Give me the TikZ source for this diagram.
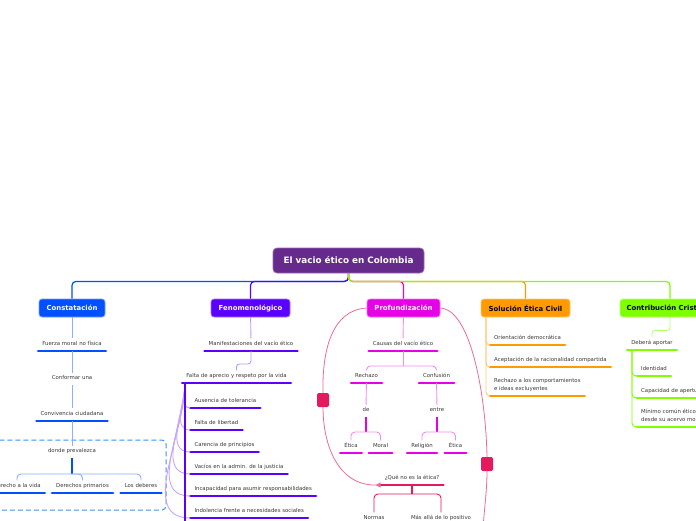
\documentclass[tikz,border=0pt]{standalone}
\usepackage{fontspec}
\setmainfont{DejaVu Sans}
\usepackage{xcolor}
\usetikzlibrary{arrows.meta}

\definecolor{rootc}{HTML}{662A8C}
\definecolor{consc}{HTML}{0050FF}
\definecolor{fenoc}{HTML}{5A00FF}
\definecolor{profc}{HTML}{E600E6}
\definecolor{solc}{HTML}{FF9A00}
\definecolor{contc}{HTML}{80FF00}
\definecolor{relc}{HTML}{E5195E}
\definecolor{relline}{HTML}{F06A96}
\definecolor{dashc}{HTML}{4090FF}
\definecolor{textc}{HTML}{3A3A3A}

\tikzset{
  rootbox/.style={rounded corners=4pt, fill=rootc, draw=rootc!70!white, line width=0.8pt,
    minimum width=151pt, minimum height=25pt, text=white,
    font=\fontsize{8.8}{10}\selectfont\bfseries},
  branch/.style={rounded corners=3pt, fill=#1, draw=#1!55!white, line width=0.8pt,
    minimum height=18pt, inner xsep=0pt, text=white,
    font=\fontsize{6.9}{8}\selectfont\bfseries},
  bar/.style={draw=#1, line width=2.6pt, line cap=round},
  topic/.style={font=\fontsize{5.4}{8}\selectfont, text=textc, inner xsep=4pt, inner ysep=3pt,
    text height=4pt, text depth=2.3pt,
    append after command={(\tikzlastnode.south west) edge[bar=#1] (\tikzlastnode.south east)}},
  plain/.style={font=\fontsize{5.4}{8}\selectfont, text=textc, inner sep=3pt,
    text height=4pt, text depth=2.3pt},
  conn/.style={draw=#1, line width=0.9pt, rounded corners=4pt},
  stem/.style={draw=#1, line width=1.4pt},
  spine/.style={draw=#1, line width=2pt},
  elbow/.style={to path={-| (\tikztotarget)}},
  drop/.style={to path={|- (\tikztotarget)}},
  relbox/.style={fill=relc, rounded corners=2pt, minimum width=12pt, minimum height=14pt, inner sep=0pt},
  rel/.style={draw=relline, line width=0.8pt},
  dashbox/.style={draw=dashc, line width=1pt, dash pattern=on 5pt off 3pt, rounded corners=4pt}
}

\begin{document}
\begin{tikzpicture}[x=1pt, y=1pt]
  \useasboundingbox (0,0) rectangle (696,-520);
  \clip (0,0) rectangle (696,-520);
  \fill[white] (0,0) rectangle (696,-520);

  % central topic and main branches
  \node[rootbox] (root) at (348.5,-260.5) {El vacio ético en Colombia};
  \node[branch=consc, minimum width=66pt] (cons) at (72,-308) {Constatación};
  \node[branch=fenoc, minimum width=79pt] (feno) at (250.5,-308) {Fenomenológico};
  \node[branch=profc, minimum width=73pt] (prof) at (403.5,-308) {Profundización};
  \node[branch=solc, minimum width=89pt, text=black] (sol) at (525.5,-308) {Solución Ética Civil};
  \node[branch=contc, minimum width=100pt, text=black] (cont) at (670,-308) {Contribución Cristiana};

  \draw[conn=consc, line width=1.2pt] (root.south) -- ++(0,-8) -| (cons.north);
  \draw[conn=fenoc, line width=1.2pt] (root.south) -- ++(0,-8) -| (feno.north);
  \draw[conn=profc, line width=1.2pt] (root.south) -- ++(0,-8) -| (prof.north);
  \draw[conn=solc, line width=1.2pt] (root.south) -- ++(0,-8) -| (sol.north);
  \draw[conn=contc, line width=1.2pt] (root.south) -- ++(0,-8) -| (cont.north);

  % Constatacion
  \node[topic=consc, anchor=south] (fuerza) at (72,-351) {Fuerza moral no física};
  \node[plain] (conformar) at (72,-379) {Conformar una};
  \node[topic=consc, anchor=south] (conviv) at (72,-421) {Convivencia ciudadana};
  \draw[dashbox] (-6,-440) rectangle (166,-510);
  \node[plain] (donde) at (72,-452) {donde prevalezca};
  \node[topic=consc, anchor=south] (derecho) at (17,-493) {Derecho a la vida};
  \node[topic=consc, anchor=south] (primarios) at (82.5,-493) {Derechos primarios};
  \node[topic=consc, anchor=south] (deberes) at (141,-493) {Los deberes};
  \coordinate (dj) at (72,-474);

  \path[conn=consc!45]
    (cons) edge (fuerza)
    (fuerza) edge (conformar)
    (conformar) edge (conviv)
    (conviv) edge (donde);
  \draw[stem=consc] (donde) -- (dj);
  \path[conn=consc!45]
    (dj) edge[elbow] (derecho)
         edge[elbow] (primarios)
         edge[elbow] (deberes);

  % Fenomenologico
  \node[topic=fenoc, anchor=south] (manif) at (251,-351) {Manifestaciones del vacío ético};
  \node[topic=fenoc, anchor=south] (aprecio) at (236.5,-383) {Falta de aprecio y respeto por la vida};
  \node[topic=fenoc, anchor=south west] (aus) at (190.3,-408) {Ausencia de tolerancia};
  \node[topic=fenoc, anchor=south west] (lib) at (190.3,-430) {Falta de libertad};
  \node[topic=fenoc, anchor=south west] (princ) at (190.3,-452) {Carencia de principios};
  \node[topic=fenoc, anchor=south west] (just) at (190.3,-474) {Vacíos en la admin. de la justicia};
  \node[topic=fenoc, anchor=south west] (resp) at (190.3,-496) {Incapacidad para asumir responsabilidades};
  \node[topic=fenoc, anchor=south west] (indol) at (190.3,-518) {Indolencia frente a necesidades sociales};
  \coordinate (fenotop) at (185,-383);
  \coordinate (fenoend) at (185,-540);

  \draw[conn=fenoc!40] (feno) -- (manif);
  \draw[conn=fenoc!40, rounded corners=3pt] (manif.south) -- ++(0,-13) -| (aprecio.north);
  \path[conn=fenoc!35]
    (fenotop) edge[out=-90, in=180] (aus.south west)
              edge[out=-90, in=180] (lib.south west)
              edge[out=-90, in=180] (princ.south west)
              edge[out=-90, in=180] (just.south west)
              edge[out=-90, in=180] (resp.south west)
              edge[out=-90, in=180] (indol.south west);
  \draw[spine=fenoc] (fenotop) -- (fenoend);

  % Profundizacion
  \node[topic=profc, anchor=south] (causas) at (403,-351) {Causas del vacío ético};
  \node[topic=profc, anchor=south] (rechazo) at (366.5,-383) {Rechazo};
  \node[topic=profc, anchor=south] (confusion) at (436.5,-383) {Confusión};
  \node[plain] (de) at (366,-411) {de};
  \node[plain] (entre) at (437,-411) {entre};
  \node[topic=profc, anchor=south] (etica) at (351,-453) {Ética};
  \node[topic=profc, anchor=south] (moral) at (380.5,-453) {Moral};
  \node[topic=profc, anchor=south] (religion) at (422,-453) {Religión};
  \node[topic=profc, anchor=south] (eticab) at (455.5,-453) {Ética};
  \coordinate (pj) at (403,-366);
  \coordinate (dej) at (366,-432);
  \coordinate (ej) at (437,-432);

  \draw[conn=profc!45] (prof) -- (causas);
  \draw[conn=profc!45] (causas) -- (pj);
  \path[conn=profc!45]
    (pj) edge[elbow] (rechazo)
         edge[elbow] (confusion)
    (rechazo) edge (de)
    (confusion) edge (entre);
  \draw[stem=profc] (de) -- (dej);
  \draw[stem=profc] (entre) -- (ej);
  \path[conn=profc!45]
    (dej) edge[elbow] (etica)
          edge[elbow] (moral)
    (ej) edge[elbow] (religion)
         edge[elbow] (eticab);

  \node[topic=relc, anchor=south] (queno) at (412,-485) {¿Qué no es la ética?};
  \node[topic=relc, anchor=south] (normas) at (374,-525) {Normas};
  \node[topic=relc, anchor=south] (masalla) at (441,-525) {Más allá de lo positivo};
  \coordinate (qj) at (412,-494);
  \draw[stem=relc] (queno) -- (qj);
  \path[conn=relc]
    (qj) edge[elbow] (normas)
         edge[elbow] (masalla);

  % relations
  \node[relbox] (sqa) at (323,-400) {};
  \node[relbox] (sqb) at (487,-464) {};
  \coordinate (relend) at (481,-560);
  \draw[rel] (prof.west) .. controls (332,-310) and (322,-350) .. (sqa.north);
  \draw[rel, -{Triangle[reversed, length=5pt, width=5pt]}] (sqa.south) .. controls (323,-445) and (338,-486) .. (queno.south west);
  \draw[rel] (prof.east) .. controls (472,-310) and (486,-400) .. (sqb.north);
  \draw[rel] (sqb.south) .. controls (487,-495) and (483,-515) .. (relend);

  % Solucion Etica Civil
  \node[topic=solc, anchor=south west] (orient) at (490,-345) {Orientación democrática};
  \node[topic=solc, anchor=south west] (acept) at (490,-367) {Aceptación de la racionalidad compartida};
  \node[topic=solc, anchor=south west, align=left] (excl) at (490,-396)
    {Rechazo a los comportamientos\\e ideas excluyentes};
  \coordinate (soltop) at (486,-317);
  \path[conn=solc!55]
    (soltop) edge[drop] (orient.south west)
             edge[drop] (acept.south west)
             edge[drop] (excl.south west);

  % Contribucion Cristiana
  \node[topic=contc, anchor=south] (debera) at (652,-350) {Deberá aportar};
  \node[topic=contc, anchor=south west] (ident) at (637,-376) {Identidad};
  \node[topic=contc, anchor=south west] (apert) at (637,-398) {Capacidad de apertura};
  \node[topic=contc, anchor=south west, align=left] (minimo) at (637,-427)
    {Mínimo común ético\\desde su acervo moral};
  \coordinate (contop) at (632,-350);
  \draw[conn=contc!55, rounded corners=3pt] (cont.south) -- ++(0,-13) -| (debera.north);
  \path[conn=contc]
    (contop) edge[drop] (ident.south west)
             edge[drop] (apert.south west)
             edge[drop] (minimo.south west);
\end{tikzpicture}
\end{document}
